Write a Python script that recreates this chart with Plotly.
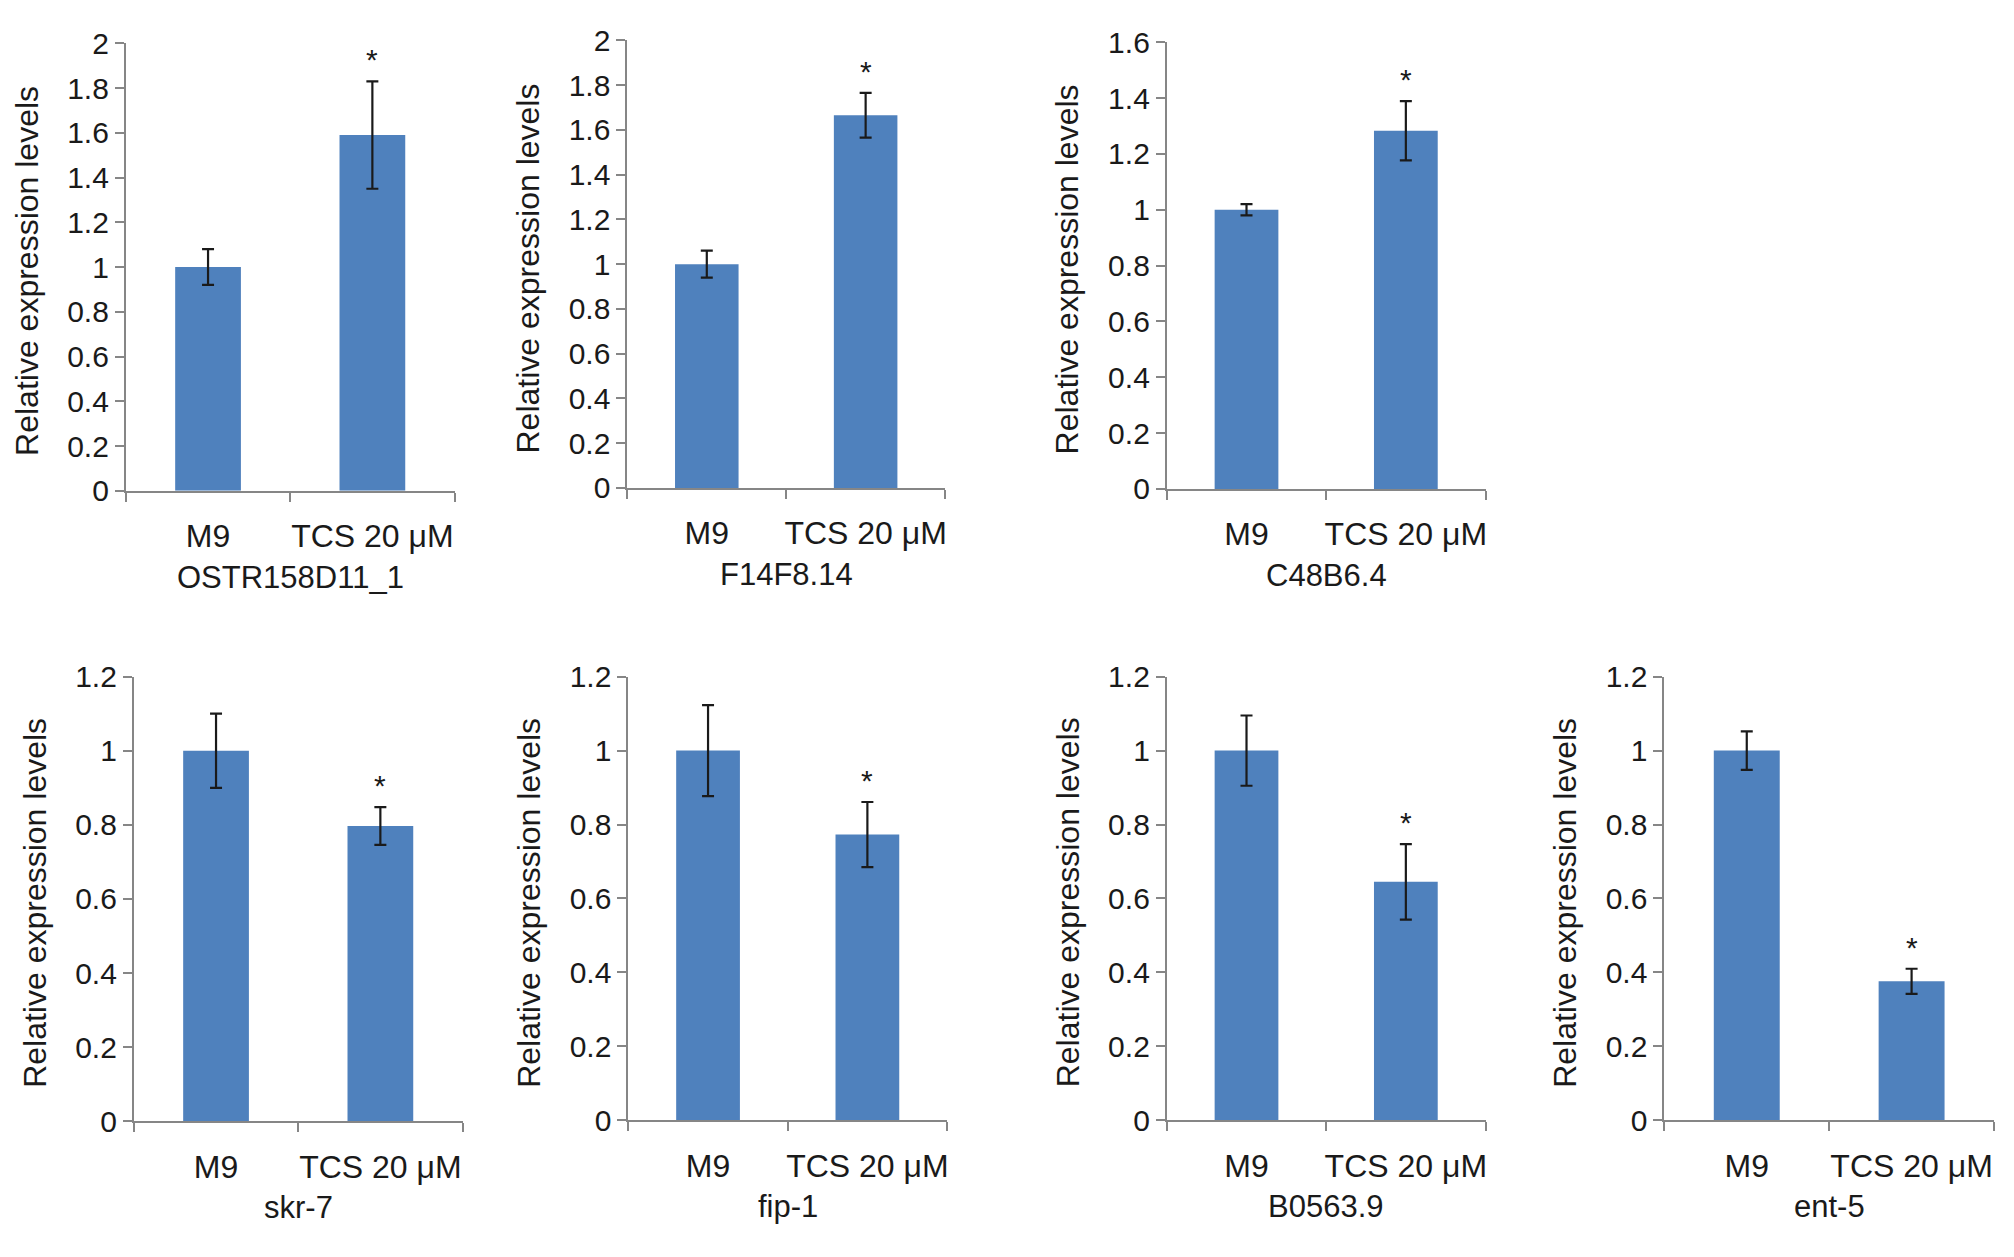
import plotly.graph_objects as go

# Values (relative expression, mean +/- error)
genes = ["OSTR158D11_1", "F14F8.14", "C48B6.4", "skr-7", "fip-1", "B0563.9", "ent-5"]
groups = ["M9", "TCS 20 μM"]
m9_mean = [1.0, 1.0, 1.0, 1.0, 1.0, 1.0, 1.0]
m9_err = [0.08, 0.06, 0.02, 0.10, 0.123, 0.095, 0.052]
tcs_mean = [1.59, 1.665, 1.283, 0.797, 0.773, 0.645, 0.376]
tcs_err = [0.24, 0.10, 0.106, 0.051, 0.088, 0.102, 0.034]
y_max = [2.0, 2.0, 1.6, 1.2, 1.2, 1.2, 1.2]
y_tick_step = 0.2

W, H = 2014, 1257
BAR_COLOR = "#4f81bd"
AXIS_COLOR = "#868686"
TEXT_COLOR = "#1a1a1a"
FONT = "Liberation Sans, Arial, sans-serif"

# plot area of each panel in window pixels: (left, right, top, bottom)
panels_px = [
    (126, 455, 27, 487),
    (628, 946, 24, 484),
    (1168, 1487, 26, 485),
    (134, 463, 678, 1135),
    (629, 948, 678, 1134),
    (1168, 1487, 678, 1134),
    (1666, 1996, 678, 1134),
]


def px_x(v):
    return v / W


def px_y(v):
    return 1 - v / H


fig = go.Figure()
annotations = []
layout = {}

for i, gene in enumerate(genes):
    n = "" if i == 0 else str(i + 1)
    left, right, top, bottom = panels_px[i]

    fig.add_trace(go.Bar(
        x=groups,
        y=[m9_mean[i], tcs_mean[i]],
        error_y=dict(type="data", array=[m9_err[i], tcs_err[i]],
                     color=TEXT_COLOR, thickness=2.2, width=6),
        marker=dict(color=BAR_COLOR, line=dict(width=0)),
        width=0.4,
        xaxis="x" + n,
        yaxis="y" + n,
        showlegend=False,
    ))

    layout["xaxis" + n] = dict(
        domain=[px_x(left), px_x(right)],
        anchor="y" + n,
        type="category",
        range=[-0.5, 1.5],
        tickson="boundaries",
        tickangle=0,
        ticks="outside", ticklen=9, tickwidth=2, tickcolor=AXIS_COLOR,
        ticklabelstandoff=16,
        showline=True, linecolor=AXIS_COLOR, linewidth=2,
        showgrid=False, zeroline=False,
        tickfont=dict(family=FONT, size=32, color=TEXT_COLOR),
        fixedrange=True,
    )
    layout["yaxis" + n] = dict(
        domain=[px_y(bottom), px_y(top)],
        anchor="x" + n,
        range=[0, y_max[i]],
        dtick=y_tick_step,
        ticks="outside", ticklen=9, tickwidth=2, tickcolor=AXIS_COLOR,
        showline=True, linecolor=AXIS_COLOR, linewidth=2,
        showgrid=False, zeroline=False,
        tickfont=dict(family=FONT, size=30, color=TEXT_COLOR),
        fixedrange=True,
    )

    # y axis title
    annotations.append(dict(
        text="Relative expression levels",
        xref="paper", yref="paper",
        x=px_x(left - 99), y=px_y((top + bottom) / 2 + 4),
        textangle=-90, showarrow=False,
        xanchor="center", yanchor="middle",
        font=dict(family=FONT, size=32, color=TEXT_COLOR),
    ))
    # gene name under the panel
    annotations.append(dict(
        text=gene,
        xref="paper", yref="paper",
        x=px_x((left + right) / 2), y=px_y(bottom + 89),
        showarrow=False, xanchor="center", yanchor="middle",
        font=dict(family=FONT, size=31, color=TEXT_COLOR),
    ))
    # significance star above the treated bar
    annotations.append(dict(
        text="*",
        xref="x" + n, yref="y" + n,
        x=groups[1], y=tcs_mean[i] + tcs_err[i],
        showarrow=False, xanchor="center", yanchor="bottom",
        yshift=3,
        font=dict(family=FONT, size=30, color=TEXT_COLOR),
    ))

fig.update_layout(
    width=W, height=H,
    margin=dict(l=0, r=0, t=0, b=0),
    paper_bgcolor="white",
    plot_bgcolor="white",
    annotations=annotations,
    **layout,
)

# drop the default body margin so the figure fills the window exactly
fig.write_html(
    "out.html",
    config={"displayModeBar": False},
    post_script="document.body.style.margin = '0'; document.body.style.overflow = 'hidden';",
)
